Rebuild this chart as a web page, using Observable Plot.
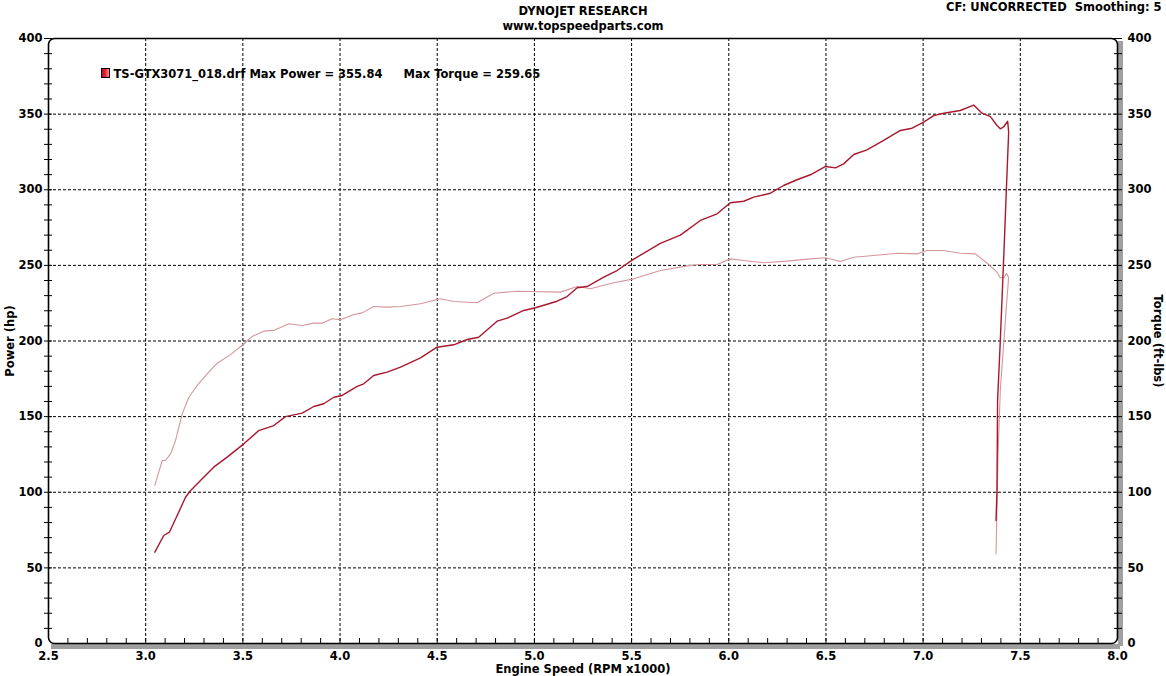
<!DOCTYPE html>
<html><head><meta charset="utf-8">
<script src="https://cdn.jsdelivr.net/npm/d3@7"></script>
<script src="https://cdn.jsdelivr.net/npm/@observablehq/plot@0.6"></script>
<style>
body{margin:0;background:#fff}
svg{display:block}
svg text{white-space:pre}
</style>
</head><body><div id="chart"></div>
<script>
const titleLines = ["DYNOJET RESEARCH", "www.topspeedparts.com"];
const cornerNote = ["CF: UNCORRECTED  Smoothing: 5"];
const legendRun = ["TS-GTX3071_018.drf Max Power = 355.84"];
const legendTorque = ["Max Torque = 259.65"];
const xLabel = ["Engine Speed (RPM x1000)"];
const yLabelLeft = ["Power (hp)"];
const yLabelRight = ["Torque (ft-lbs)"];

const xDomain = [2.5, 8.0];
const yDomain = [0, 400];
const xMajorTicks = [2.5, 3.0, 3.5, 4.0, 4.5, 5.0, 5.5, 6.0, 6.5, 7.0, 7.5, 8.0];
const xTickLabels = ["2.5", "3.0", "3.5", "4.0", "4.5", "5.0", "5.5", "6.0", "6.5", "7.0", "7.5", "8.0"];
const xGridTicks = [3.0, 3.5, 4.0, 4.5, 5.0, 5.5, 6.0, 6.5, 7.0, 7.5];
const xMinorTicks = [2.6,2.7,2.8,2.9,3.0,3.1,3.2,3.3,3.4,3.5,3.6,3.7,3.8,3.9,4.0,4.1,4.2,4.3,4.4,4.5,4.6,4.7,4.8,4.9,5.0,5.1,5.2,5.3,5.4,5.5,5.6,5.7,5.8,5.9,6.0,6.1,6.2,6.3,6.4,6.5,6.6,6.7,6.8,6.9,7.0,7.1,7.2,7.3,7.4,7.5,7.6,7.7,7.8,7.9];
const yMajorTicks = [0, 50, 100, 150, 200, 250, 300, 350, 400];
const yGridTicks = [50, 100, 150, 200, 250, 300, 350];
const yMinorTicks = [10,20,30,40,50,60,70,80,90,100,110,120,130,140,150,160,170,180,190,200,210,220,230,240,250,260,270,280,290,300,310,320,330,340,350,360,370,380,390,400];

// Power (hp) vs engine speed (RPM x1000)
const powerRpm = [3.047,3.093,3.122,3.162,3.205,3.230,3.282,3.350,3.419,3.505,3.582,3.659,3.719,3.805,3.865,3.916,3.968,4.011,4.088,4.122,4.173,4.242,4.311,4.414,4.499,4.585,4.654,4.713,4.808,4.860,4.945,5.005,5.117,5.168,5.220,5.271,5.357,5.425,5.509,5.648,5.751,5.854,5.940,6.008,6.077,6.128,6.214,6.282,6.351,6.420,6.498,6.549,6.591,6.643,6.711,6.797,6.883,6.943,7.003,7.054,7.106,7.191,7.260,7.303,7.346,7.380,7.397,7.414,7.435,7.440,7.428,7.418,7.397,7.383,7.380,7.375];
const powerHp = [60.4,71.4,73.6,84.6,96.7,101,107.8,116.6,123.2,132,140.8,144.1,150,152.3,156.7,158.5,162.8,164,170,171.7,177.2,179.4,182.7,188.9,195.9,197.5,201,202.5,213.1,215.1,220.2,222,226.3,229.4,235.2,236,242.2,246.6,254,264.5,270,279.7,284.1,291.4,292.4,295.1,297.7,302.8,306.6,309.9,315.4,314.5,317.1,323.3,326.4,332.6,339.2,340.7,344.7,349,350.6,352.4,356,350.6,348.4,342.5,340.3,341.5,345.3,338,299.5,266,200,160.7,101,81.3];

// Torque (ft-lbs) vs engine speed (RPM x1000)
const torqueRpm = [3.047,3.085,3.102,3.128,3.153,3.188,3.222,3.265,3.316,3.368,3.436,3.505,3.548,3.607,3.659,3.736,3.805,3.865,3.908,3.959,4.002,4.071,4.114,4.173,4.242,4.311,4.414,4.516,4.585,4.705,4.791,4.911,5.134,5.220,5.288,5.408,5.511,5.648,5.802,5.854,5.940,6.008,6.077,6.180,6.300,6.420,6.498,6.574,6.643,6.745,6.866,6.969,7.020,7.106,7.191,7.269,7.329,7.380,7.397,7.418,7.428,7.440,7.428,7.397,7.385,7.375];
const torqueLbft = [104.5,121,121,125.4,134,151.8,162.8,170.6,178.3,185.3,191,198,203,206.5,207,211.4,210.2,211.8,211.8,214.7,214,217.5,218.6,222.8,222.4,222.8,224.6,227.9,226.1,225.3,231.6,232.9,232.3,236,234.5,238.5,241.1,246.6,250,250.6,250.6,254.3,253.2,251.7,252.8,254.3,255,252.6,255.4,256.5,258,257.6,259.8,259.8,258,257.6,251.4,245.5,241.8,242.2,244.8,242.2,222.3,167.3,123.2,59.3];

const power = powerRpm.map((r, i) => ({rpm: r, value: powerHp[i]}));
const torque = torqueRpm.map((r, i) => ({rpm: r, value: torqueLbft[i]}));

const font = "DejaVu Sans";
const id = d => d;

const chart = Plot.plot({
  width: 1166,
  height: 676,
  marginLeft: 48,
  marginRight: 49,
  marginTop: 38,
  marginBottom: 33,
  style: {fontFamily: font, fontSize: "11px", fontWeight: "bold", background: "white", color: "black", overflow: "visible"},
  x: {domain: xDomain},
  y: {domain: yDomain},
  marks: [
    Plot.gridX(xGridTicks, {stroke: "black", strokeOpacity: 1, strokeWidth: 1, strokeDasharray: "3,2"}),
    Plot.gridY(yGridTicks, {stroke: "black", strokeOpacity: 1, strokeWidth: 1, strokeDasharray: "3,2"}),
    // shadow of the frame
    Plot.ruleY([yDomain[0]], {stroke: "#a0a0a0", strokeWidth: 5, dx: 3, dy: 3}),
    Plot.ruleX([xDomain[1]], {stroke: "#a0a0a0", strokeWidth: 5, dx: 3, dy: 3}),
    Plot.frame({stroke: "black", strokeWidth: 1.6, rx: 6}),
    // minor ticks
    Plot.axisY(yMinorTicks, {anchor: "left", tickSize: 8, dx: 4, tickFormat: () => "", label: null}),
    Plot.axisY(yMinorTicks, {anchor: "right", tickSize: 8, dx: -4, tickFormat: () => "", label: null}),
    Plot.axisX(xMinorTicks, {anchor: "bottom", tickSize: 5, dy: -5, tickFormat: () => "", label: null}),
    // labels
    Plot.axisY(yMajorTicks, {anchor: "left", tickSize: 0, tickPadding: 6, label: null, fontSize: 11.5}),
    Plot.axisY(yMajorTicks, {anchor: "right", tickSize: 0, tickPadding: 10, label: null, fontSize: 11.5}),
    Plot.axisX(xMajorTicks, {anchor: "bottom", tickSize: 0, tickPadding: 8, label: null, tickFormat: (d, i) => xTickLabels[i], fontSize: 11.5}),
    // curves
    Plot.line(torque, {x: "rpm", y: "value", stroke: "#d4979c", strokeWidth: 1.1}),
    Plot.line(power, {x: "rpm", y: "value", stroke: "#a8182e", strokeWidth: 1.4}),
    // texts
    Plot.text(titleLines.slice(0, 1), {text: id, frameAnchor: "top", lineAnchor: "middle", dy: -27.5, fontSize: 11.5}),
    Plot.text(titleLines.slice(1, 2), {text: id, frameAnchor: "top", lineAnchor: "middle", dy: -12, fontSize: 11.5}),
    Plot.text(cornerNote, {text: id, frameAnchor: "top-right", lineAnchor: "middle", textAnchor: "end", dx: 44, dy: -31.5, fontSize: 11.5}),
    Plot.text(legendRun, {text: id, frameAnchor: "top-left", lineAnchor: "middle", textAnchor: "start", dx: 65, dy: 36, fontSize: 11.5}),
    Plot.text(legendTorque, {text: id, frameAnchor: "top-left", lineAnchor: "middle", textAnchor: "start", dx: 355, dy: 36, fontSize: 11.5}),
    Plot.text(xLabel, {text: id, frameAnchor: "bottom", lineAnchor: "middle", textAnchor: "middle", dy: 25.5, fontSize: 11.5}),
    Plot.text(yLabelLeft, {text: id, frameAnchor: "left", lineAnchor: "middle", textAnchor: "middle", rotate: -90, dx: -38, fontSize: 11.5}),
    Plot.text(yLabelRight, {text: id, frameAnchor: "right", lineAnchor: "middle", textAnchor: "middle", rotate: 90, dx: 40, fontSize: 11.5})
  ]
});

document.getElementById("chart").appendChild(chart);

// legend swatch
const svg = d3.select(chart);
const defs = svg.append("defs");
const grad = defs.append("linearGradient").attr("id", "sw").attr("x1", "0").attr("x2", "1");
grad.append("stop").attr("offset", "0").attr("stop-color", "#c8001a");
grad.append("stop").attr("offset", "0.45").attr("stop-color", "#e02030");
grad.append("stop").attr("offset", "1").attr("stop-color", "#f4a0a0");
svg.append("rect").attr("x", 101.5).attr("y", 68.5).attr("width", 8).attr("height", 9)
  .attr("fill", "url(#sw)").attr("stroke", "black").attr("stroke-width", 1);
</script>
</body></html>
